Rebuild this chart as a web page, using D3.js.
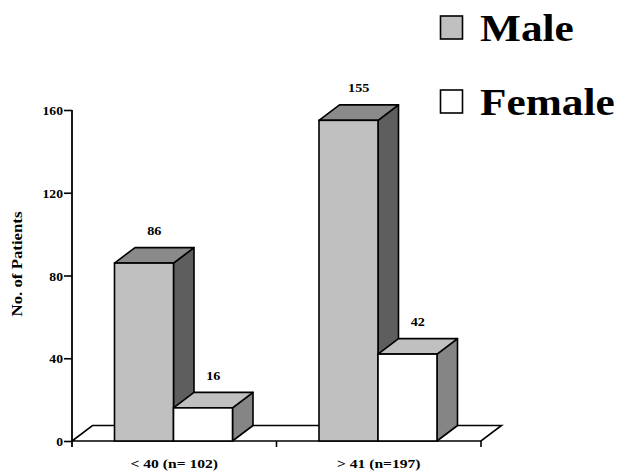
<!DOCTYPE html>
<html>
<head>
<meta charset="utf-8">
<script src="https://cdn.jsdelivr.net/npm/d3@7"></script>
<style>
  html, body { margin: 0; padding: 0; background: #fff; }
  svg { display: block; }
  text { font-family: "Liberation Serif", "Times New Roman", serif; font-weight: bold; fill: #000; }
</style>
</head>
<body>
<svg id="chart" width="625" height="472"></svg>
<script>
// Age groups and patient counts by sex
const groups = ["< 40 (n= 102)", "> 41 (n=197)"];
const sexes = ["Male", "Female"];
const maleCounts = [86, 155];
const femaleCounts = [16, 42];
const yTicks = [0, 40, 80, 120, 160];

const rows = groups.map((g, i) => ({ group: g, Male: maleCounts[i], Female: femaleCounts[i] }));

// Face colours of the extruded bars: front, top, side
const faces = {
  Male:   { front: "#c0c0c0", top: "#8a8a8a", side: "#5e5e5e" },
  Female: { front: "#ffffff", top: "#c0c0c0", side: "#858585" }
};

const svg = d3.select("#chart");
const depthX = 20.5, depthY = -15.5;
const sw = 1.6;

const x = d3.scaleBand().domain(groups).range([72, 481]).padding(0);
const xSex = d3.scaleBand().domain(sexes).range([42.5, 160.5]).padding(0);
const y = d3.scaleLinear().domain([0, 160]).range([441, 110]);

// stretch text horizontally by factor k
function stretch(sel, k) {
  sel.each(function () {
    const w = this.getComputedTextLength();
    d3.select(this).attr("textLength", w * k).attr("lengthAdjust", "spacingAndGlyphs");
  });
}

// Floor of the 3D plot
const x0 = x.range()[0], x1 = x.range()[1], y0 = y(0);
svg.append("path")
  .attr("d", `M${x0},${y0} L${x1},${y0} L${x1 + depthX},${y0 + depthY} L${x0 + depthX},${y0 + depthY} Z`)
  .attr("fill", "#fff").attr("stroke", "#000").attr("stroke-width", sw);

// Category ticks below the floor edge
svg.append("g").selectAll("line")
  .data(groups.slice(1).map(g => x(g)).concat([x1]))
  .join("line")
  .attr("x1", d => d).attr("x2", d => d)
  .attr("y1", y0).attr("y2", y0 + 6)
  .attr("stroke", "#000").attr("stroke-width", sw);

// Y axis
const yAxis = d3.axisLeft(y).tickValues(yTicks).tickSize(8).tickPadding(1).tickFormat(d3.format("d"));
const gy = svg.append("g").attr("transform", `translate(${x0},0)`).call(yAxis);
gy.select(".domain").remove();
gy.selectAll(".tick line").attr("stroke", "#000").attr("stroke-width", sw);
gy.selectAll(".tick text").attr("font-size", 13).attr("font-family", null).attr("fill", "#000")
  .attr("dy", "0.36em").call(stretch, 1.05);
svg.append("line")
  .attr("x1", x0).attr("x2", x0).attr("y1", y(160)).attr("y2", y0 + 6)
  .attr("stroke", "#000").attr("stroke-width", 1.8);

// Bars
rows.forEach(r => {
  const g = svg.append("g");
  sexes.forEach(s => {
    const bx = x(r.group) + xSex(s), bw = xSex.bandwidth();
    const top = y(r[s]);
    const c = faces[s];
    g.append("path")
      .attr("d", `M${bx + bw},${y0} L${bx + bw + depthX},${y0 + depthY} L${bx + bw + depthX},${top + depthY} L${bx + bw},${top} Z`)
      .attr("fill", c.side).attr("stroke", "#000").attr("stroke-width", sw).attr("stroke-linejoin", "round");
    g.append("path")
      .attr("d", `M${bx},${top} L${bx + depthX},${top + depthY} L${bx + bw + depthX},${top + depthY} L${bx + bw},${top} Z`)
      .attr("fill", c.top).attr("stroke", "#000").attr("stroke-width", sw).attr("stroke-linejoin", "round");
    g.append("rect")
      .attr("x", bx).attr("y", top).attr("width", bw).attr("height", y0 - top)
      .attr("fill", c.front).attr("stroke", "#000").attr("stroke-width", sw);
    g.append("text")
      .attr("x", bx + bw / 2 + depthX / 2).attr("y", top - 28)
      .attr("text-anchor", "middle").attr("font-size", 13.5)
      .text(r[s]).call(stretch, 1.05);
  });
});

// Category labels
svg.append("g").selectAll("text")
  .data(groups).join("text")
  .attr("x", d => x(d) + x.bandwidth() / 2)
  .attr("y", 468)
  .attr("text-anchor", "middle").attr("font-size", 12)
  .text(d => d).call(stretch, 1.3);

// Y axis title
svg.append("text")
  .attr("transform", "translate(21.5,264) rotate(-90)")
  .attr("text-anchor", "middle").attr("font-size", 14)
  .text("No. of Patients").call(stretch, 1.2);

// Legend
const legend = svg.append("g");
sexes.forEach((s, i) => {
  const ly = 16 + i * 74;
  legend.append("rect")
    .attr("x", 440.5).attr("y", ly).attr("width", 22).attr("height", 23)
    .attr("fill", faces[s].front).attr("stroke", "#000").attr("stroke-width", 1.6);
  legend.append("text")
    .attr("x", 480).attr("y", ly + 25)
    .attr("font-size", 38).text(s).call(stretch, 1.14);
});
</script>
</body>
</html>
